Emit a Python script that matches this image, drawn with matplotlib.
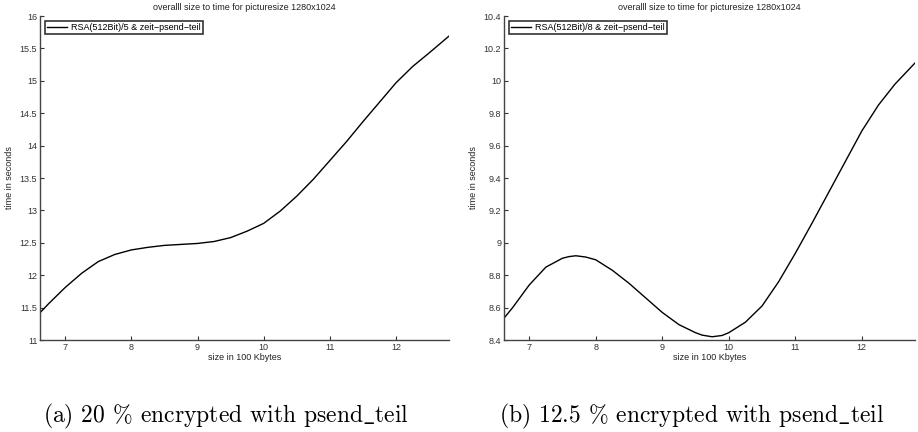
import matplotlib
matplotlib.use("Agg")
import matplotlib.pyplot as plt
from matplotlib.ticker import FormatStrFormatter

# size in 100 Kbytes
size_a = [6.62, 6.75, 7.0, 7.25, 7.5, 7.75, 8.0, 8.25, 8.5, 8.75, 9.0, 9.25, 9.5,
          9.75, 10.0, 10.25, 10.5, 10.75, 11.0, 11.25, 11.5, 11.75, 12.0, 12.25,
          12.5, 12.8]
time_a = [11.42, 11.56, 11.81, 12.03, 12.21, 12.32, 12.39, 12.43, 12.46, 12.475,
          12.49, 12.52, 12.58, 12.68, 12.80, 12.99, 13.22, 13.48, 13.77, 14.06,
          14.37, 14.67, 14.97, 15.22, 15.43, 15.69]

size_b = [6.62, 6.75, 7.0, 7.25, 7.5, 7.6, 7.7, 7.85, 8.0, 8.25, 8.5, 8.75, 9.0,
          9.25, 9.5, 9.6, 9.75, 9.9, 10.0, 10.25, 10.5, 10.75, 11.0, 11.25, 11.5,
          11.75, 12.0, 12.25, 12.5, 12.8]
time_b = [8.535, 8.60, 8.74, 8.85, 8.905, 8.915, 8.92, 8.912, 8.895, 8.83, 8.75,
          8.66, 8.57, 8.495, 8.445, 8.43, 8.42, 8.428, 8.445, 8.51, 8.61, 8.76,
          8.935, 9.12, 9.31, 9.50, 9.69, 9.85, 9.98, 10.11]

labels = ["RSA(512Bit)/5 & zeit\u2212psend\u2212teil",
          "RSA(512Bit)/8 & zeit\u2212psend\u2212teil"]
captions = [r"(a) 20 % encrypted with psend$\_$teil",
            r"(b) 12.5 % encrypted with psend$\_$teil"]
title = "overalll size to time for picturesize 1280x1024"
yticks_a = [11, 11.5, 12, 12.5, 13, 13.5, 14, 14.5, 15, 15.5, 16]
yticks_b = [8.4, 8.6, 8.8, 9, 9.2, 9.4, 9.6, 9.8, 10, 10.2, 10.4]
xticks = [7, 8, 9, 10, 11, 12]

plt.rcParams["font.family"] = ["Liberation Sans", "DejaVu Sans"]
plt.rcParams["mathtext.fontset"] = "cm"

W, H = 918, 432
fig = plt.figure(figsize=(W / 100, H / 100), dpi=100)

panels = [
    (size_a, time_a, labels[0], captions[0], yticks_a, (11, 16), 40, 449, 226),
    (size_b, time_b, labels[1], captions[1], yticks_b, (8.4, 10.4), 504, 915, 692),
]

for x, y, lab, cap, yt, ylim, px0, px1, capx in panels:
    ax = fig.add_axes([px0 / W, 1 - 340 / H, (px1 - px0) / W, (340 - 16) / H])
    ax.plot(x, y, color="black", linewidth=1.0, label=lab)
    ax.set_xlim(6.62, 12.8)
    ax.set_ylim(*ylim)
    ax.set_xticks(xticks)
    ax.set_yticks(yt)
    ax.yaxis.set_major_formatter(FormatStrFormatter("%g"))
    ax.tick_params(direction="in", length=3, width=0.8, labelsize=6.5,
                   colors="#333333", pad=2)
    for s in ("top", "right"):
        ax.spines[s].set_visible(False)
    for s in ("left", "bottom"):
        ax.spines[s].set_color("#444444")
        ax.spines[s].set_linewidth(1.0)
    ax.set_title(title, fontsize=6.5, pad=4, color="#222222")
    ax.set_xlabel("size in 100 Kbytes", fontsize=6.5, labelpad=1, color="#222222")
    ax.set_ylabel("time in seconds", fontsize=6.5, labelpad=4, color="#222222")
    leg = ax.legend(loc="upper left", fontsize=6.5, handlelength=2.2,
                    borderpad=0.25, handletextpad=0.5, fancybox=False,
                    borderaxespad=0.5)
    leg.get_frame().set_edgecolor("black")
    leg.get_frame().set_linewidth(1.2)
    fig.text(capx / W, 1 - 416 / H, cap, ha="center", va="center",
             fontsize=17, family=["cmr10", "DejaVu Serif"])

fig.savefig("out.png", dpi=100)
